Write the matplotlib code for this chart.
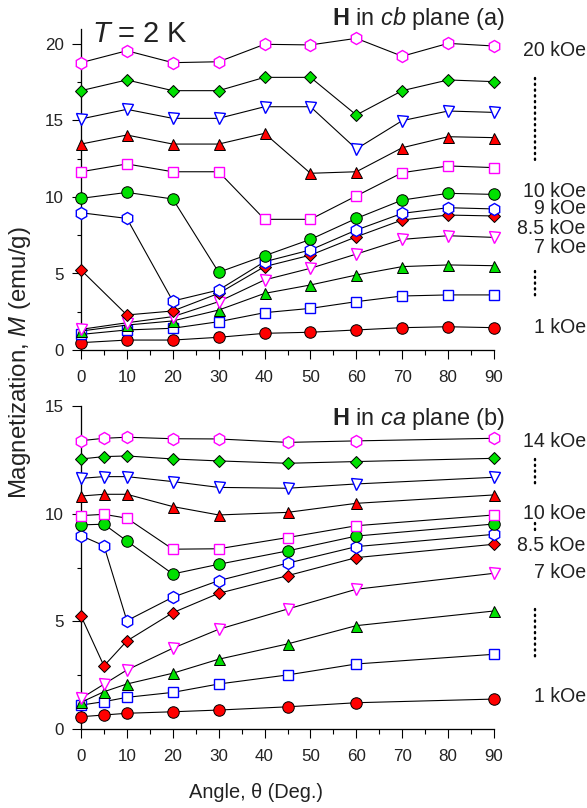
"""
Angular dependence of the magnetization at T = 2 K,
H rotated in the cb plane (a) and in the ca plane (b).
"""
import matplotlib
matplotlib.use('Agg')
import matplotlib.pyplot as plt
from matplotlib.ticker import MultipleLocator

plt.rcParams['font.family'] = ['Liberation Sans', 'DejaVu Sans']
plt.rcParams['mathtext.fontset'] = 'custom'
plt.rcParams['mathtext.rm'] = 'Liberation Sans'
plt.rcParams['mathtext.it'] = 'Liberation Sans:italic'
plt.rcParams['mathtext.bf'] = 'Liberation Sans:bold'

# ---- data, panel (a): H in cb plane ----
angle_a = [0, 10, 20, 30, 40, 50, 60, 70, 80, 90]
m_a = [
    [18.78, 19.56, 18.78, 18.84, 19.98, 19.94, 20.37, 19.20, 20.04, 19.87],  # 20 kOe
    [16.95, 17.65, 16.95, 16.95, 17.82, 17.82, 15.36, 16.95, 17.65, 17.54],
    [15.10, 15.73, 15.14, 15.14, 15.90, 15.90, 13.14, 14.99, 15.62, 15.53],
    [13.46, 14.05, 13.46, 13.46, 14.16, 11.55, 11.65, 13.22, 13.94, 13.88],
    [11.65, 12.16, 11.65, 11.65, 8.54, 8.54, 10.07, 11.59, 12.03, 11.92],
    [9.91, 10.30, 9.87, 5.08, 6.16, 7.23, 8.60, 9.80, 10.24, 10.17],          # 10 kOe
    [8.97, 8.60, 3.20, 3.92, 5.77, 6.54, 7.84, 8.93, 9.30, 9.22],             # 9 kOe
    [5.23, 2.29, 2.55, 3.70, 5.45, 6.20, 7.40, 8.50, 8.82, 8.76],             # 8.5 kOe
    [1.35, 1.78, 2.18, 3.16, 4.58, 5.34, 6.27, 7.23, 7.47, 7.36],             # 7 kOe
    [1.24, 1.63, 1.90, 2.61, 3.70, 4.25, 4.90, 5.45, 5.56, 5.51],
    [1.02, 1.31, 1.42, 1.85, 2.44, 2.72, 3.16, 3.53, 3.60, 3.60],
    [0.48, 0.65, 0.65, 0.83, 1.09, 1.16, 1.31, 1.46, 1.52, 1.46],             # 1 kOe
]

# ---- data, panel (b): H in ca plane ----
angle_b = [0, 5, 10, 20, 30, 45, 60, 90]
m_b = [
    [13.39, 13.50, 13.55, 13.48, 13.47, 13.31, 13.38, 13.50],  # 14 kOe
    [12.54, 12.65, 12.68, 12.54, 12.45, 12.34, 12.42, 12.57],
    [11.64, 11.72, 11.72, 11.49, 11.22, 11.18, 11.38, 11.69],
    [10.82, 10.90, 10.90, 10.33, 9.94, 10.06, 10.48, 10.87],
    [9.91, 9.97, 9.79, 8.35, 8.37, 8.89, 9.44, 9.94],          # 10 kOe
    [9.48, 9.51, 8.73, 7.20, 7.65, 8.27, 8.96, 9.52],
    [8.98, 8.51, 5.03, 6.12, 6.89, 7.70, 8.47, 9.04],
    [5.25, 2.93, 4.09, 5.40, 6.30, 7.12, 7.96, 8.58],          # 8.5 kOe
    [1.42, 2.08, 2.74, 3.75, 4.63, 5.57, 6.49, 7.23],          # 7 kOe
    [1.24, 1.73, 2.09, 2.59, 3.24, 3.95, 4.80, 5.48],
    [1.11, 1.27, 1.47, 1.70, 2.09, 2.51, 3.02, 3.47],
    [0.57, 0.65, 0.73, 0.80, 0.88, 1.03, 1.22, 1.39],          # 1 kOe
]

# marker, face colour, edge colour (same sequence in both panels, high field first)
styles = [
    ('h', 'white', '#ff00ff'),
    ('D', '#00e000', 'black'),
    ('v', 'white', '#0000ff'),
    ('^', '#ff0000', 'black'),
    ('s', 'white', '#ff00ff'),
    ('o', '#00e000', 'black'),
    ('h', 'white', '#0000ff'),
    ('D', '#ff0000', 'black'),
    ('v', 'white', '#ff00ff'),
    ('^', '#00e000', 'black'),
    ('s', 'white', '#0000ff'),
    ('o', '#ff0000', 'black'),
]
marker_size = {'h': 12, 'D': 8.4, 'v': 11, '^': 11, 's': 10, 'o': 11.5}

# field labels at the right: text and the M value they sit at
labels_a = ['20 kOe', '10 kOe', '9 kOe', '8.5 kOe', '7 kOe', '1 kOe']
label_y_a = [19.6, 10.33, 9.28, 7.97, 6.73, 1.5]
dots_a = [(17.8, 12.3), (5.16, 3.4)]

labels_b = ['14 kOe', '10 kOe', '8.5 kOe', '7 kOe', '1 kOe']
label_y_b = [13.34, 10.03, 8.51, 7.25, 1.5]
dots_b = [(12.54, 11.33), (9.57, 9.15), (5.57, 3.2)]

W, H = 587, 808
fig = plt.figure(figsize=(W / 72, H / 72), dpi=72)
ax_a = fig.add_axes([81 / W, 1 - 350 / H, 413 / W, 321.3 / H])
ax_b = fig.add_axes([81 / W, 1 - 729 / H, 413 / W, 323 / H])


def draw_panel(ax, angle, series, ymax, labels, label_y, dots):
    # low fields first so the high-field markers sit on top
    for k in range(len(series) - 1, -1, -1):
        mk, fc, ec = styles[k]
        ax.plot(angle, series[k], color='black', lw=1.1, marker=mk,
                ms=marker_size[mk], mfc=fc, mec=ec, mew=1.4 if fc == 'white' else 1.0,
                clip_on=False, zorder=3 + (len(series) - k))

    ax.set_xlim(0, 90)
    ax.set_ylim(0, ymax)
    ax.xaxis.set_major_locator(MultipleLocator(10))
    ax.xaxis.set_minor_locator(MultipleLocator(5))
    ax.yaxis.set_major_locator(MultipleLocator(5))
    ax.yaxis.set_minor_locator(MultipleLocator(2.5))
    ax.tick_params(which='major', direction='out', length=9, width=1.1,
                   labelsize=17, pad=8, labelcolor='#222222')
    ax.tick_params(which='minor', direction='out', length=4.5, width=1.1)
    ax.tick_params(axis='x', pad=11)
    for side in ('top', 'right'):
        ax.spines[side].set_visible(False)
    for side in ('left', 'bottom'):
        ax.spines[side].set_linewidth(1.3)
    ax.patch.set_visible(False)

    tr = ax.get_yaxis_transform()
    for txt, y in zip(labels, label_y):
        ax.text(1.222, y, txt, transform=tr, ha='right', va='center',
                fontsize=19.5, color='#222222', clip_on=False)
    for y0, y1 in dots:
        ax.plot([1.099, 1.099], [y0, y1], transform=tr, color='black', lw=2.4,
                ls=(0, (0.5, 1.9)), dash_capstyle='round', clip_on=False)


draw_panel(ax_a, angle_a, m_a, 21, labels_a, label_y_a, dots_a)
draw_panel(ax_b, angle_b, m_b, 15, labels_b, label_y_b, dots_b)

fig.text(92 / W, 1 - 34 / H, r'$T$ = 2 K', fontsize=29, ha='left', va='center',
         color='#222222')
fig.text(505 / W, 1 - 19 / H, r'$\mathbf{H}$ in $\mathit{cb}$ plane (a)',
         fontsize=23.5, ha='right', va='center', color='#222222')
fig.text(505 / W, 1 - 419 / H, r'$\mathbf{H}$ in $\mathit{ca}$ plane (b)',
         fontsize=23.5, ha='right', va='center', color='#222222')

fig.text(20 / W, 1 - 363 / H, r'Magnetization, $\mathit{M}$ (emu/g)', fontsize=24,
         rotation=90, ha='center', va='center', color='#222222')
fig.text(256 / W, 1 - 793 / H, r'Angle, θ (Deg.)', fontsize=20,
         ha='center', va='center', color='#222222')

fig.savefig('out.png', dpi=72)
